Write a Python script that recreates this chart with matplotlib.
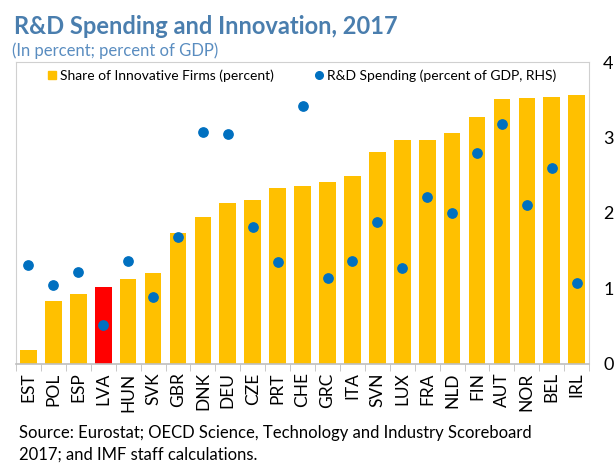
import matplotlib.pyplot as plt
import numpy as np

# Data
countries = ["EST", "POL", "ESP", "LVA", "HUN", "SVK", "GBR", "DNK", "DEU", "CZE", "PRT", "CHE",
             "GRC", "ITA", "SVN", "LUX", "FRA", "NLD", "FIN", "AUT", "NOR", "BEL", "IRL"]
innovative_share = [3.2, 14.6, 16.2, 17.8, 19.7, 21.1, 30.4, 34.1, 37.3, 38.0, 40.8, 41.3,
                    42.2, 43.6, 49.1, 51.9, 51.9, 53.5, 57.3, 61.4, 61.7, 61.9, 62.4]
rd_spending = [1.31, 1.05, 1.22, 0.52, 1.36, 0.89, 1.68, 3.07, 3.04, 1.81, 1.35, 3.42,
               1.14, 1.36, 1.88, 1.27, 2.21, 2.00, 2.79, 3.18, 2.11, 2.60, 1.07]
highlight = "LVA"

font = "Lato"
title_blue = "#4A7EAE"

fig = plt.figure(figsize=(6.15, 4.63), dpi=100)
ax1 = fig.add_axes([0.026, 0.214, 0.932, 0.652])
x = np.arange(len(countries))
colors = ["#FF0000" if c == highlight else "#FFC000" for c in countries]
ax1.bar(x, innovative_share, width=0.67, color=colors, zorder=2)
ax1.set_ylim(0, 70)
ax1.set_xlim(-0.5, len(countries) - 0.5)
ax1.set_yticks([])
ax1.set_xticks(x)
ax1.set_xticklabels(countries, rotation=90, fontsize=12.5, family=font)
ax1.tick_params(axis="x", length=0, pad=6)
ax1.set_xticks(np.arange(-0.5, len(countries), 1.0), minor=True)
ax1.tick_params(axis="x", which="minor", length=5, color="#BFBFBF", direction="out")
for side in ["top", "left", "right"]:
    ax1.spines[side].set_color("#D0D0D0")
ax1.spines["bottom"].set_color("#BFBFBF")
ax1.spines["bottom"].set_linewidth(1.2)

ax2 = ax1.twinx()
ax2.scatter(x, rd_spending, s=45, color="#0070C0", zorder=3)
ax2.set_ylim(0, 4)
ax2.set_yticks([0, 1, 2, 3, 4])
ax2.set_yticklabels(["0", "1", "2", "3", "4"], fontsize=13, family=font)
ax2.tick_params(axis="y", length=0, pad=10)
for side in ["top", "left", "right", "bottom"]:
    ax2.spines[side].set_visible(False)

# Legend along the top of the plot
h1 = plt.Line2D([], [], marker="s", linestyle="", color="#FFC000", markersize=6)
h2 = plt.Line2D([], [], marker="o", linestyle="", color="#0070C0", markersize=5.5)
fig.legend([h1, h2], ["Share of Innovative Firms (percent)", "R&D Spending (percent of GDP, RHS)"],
           loc="center left", bbox_to_anchor=(0.053, 0.837), ncol=2, frameon=False,
           prop={"family": font, "size": 10}, handletextpad=0.1, columnspacing=2.7,
           handlelength=1.0)

fig.text(0.022, 0.942, "R&D Spending and Innovation, 2017", fontsize=17, fontweight="bold",
         color=title_blue, family=font, va="center")
fig.text(0.02, 0.891, "(In percent; percent of GDP)", fontsize=12, color="#5A8DC0",
         family=font, va="center")
fig.text(0.031, 0.041, "Source: Eurostat; OECD Science, Technology and Industry Scoreboard\n"
         "2017; and IMF staff calculations.", fontsize=12, family=font, va="center",
         linespacing=1.45)

plt.savefig("out.png", dpi=100)
